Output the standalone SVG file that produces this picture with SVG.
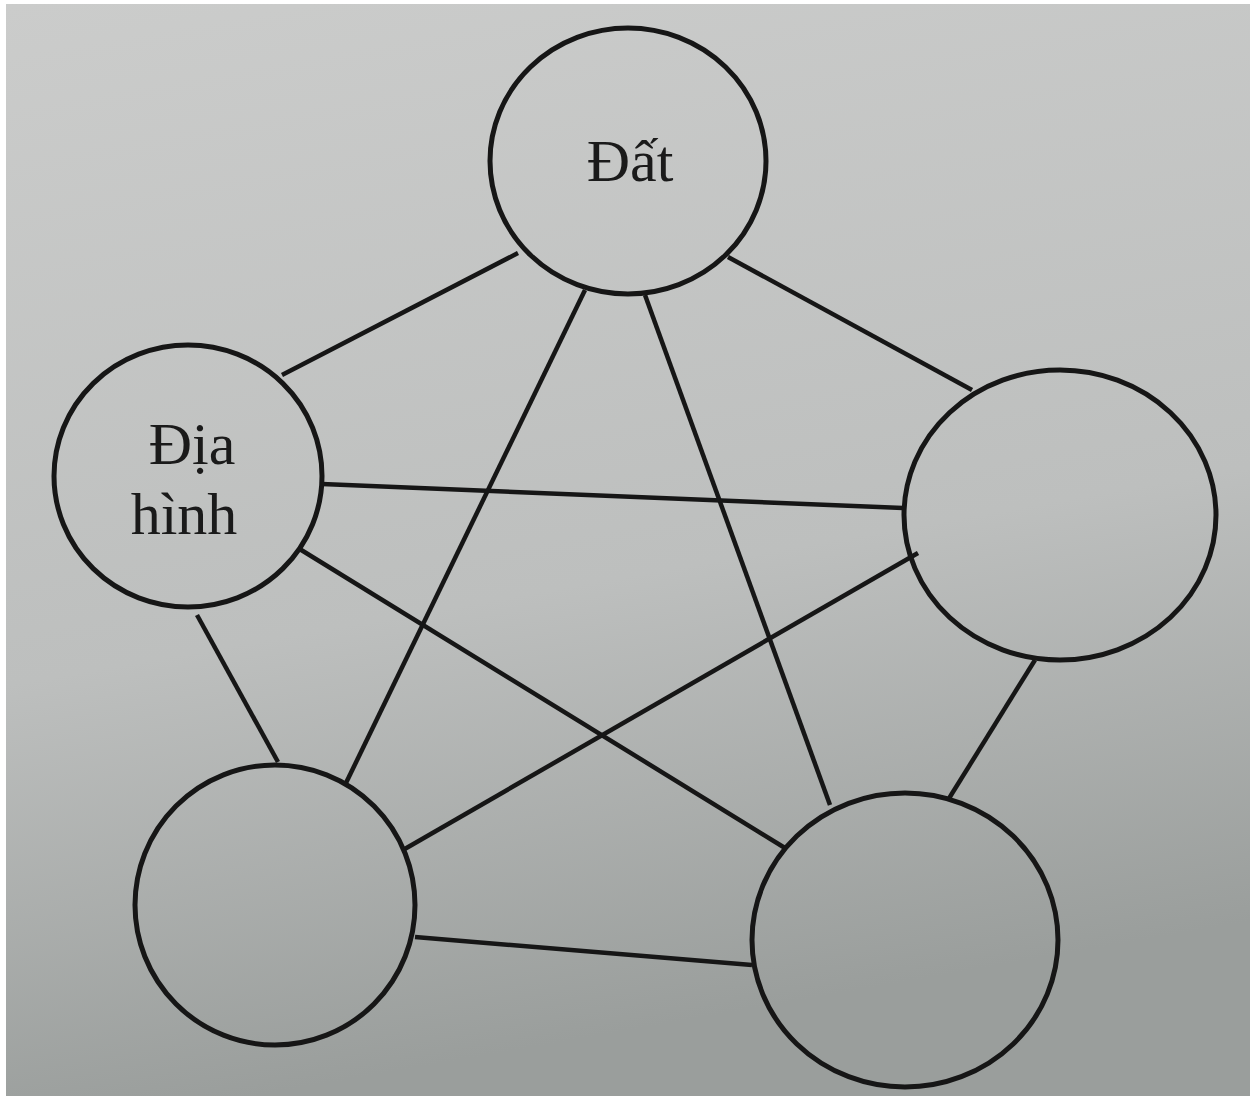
<svg xmlns="http://www.w3.org/2000/svg" width="1252" height="1102" viewBox="0 0 1252 1102">
<defs>
<linearGradient id="bg" x1="0" y1="0" x2="0.2" y2="1">
<stop offset="0" stop-color="#cbcccb"/>
<stop offset="0.6" stop-color="#bdbfbe"/>
<stop offset="1" stop-color="#9a9e9c"/>
</linearGradient>
<style>
.n{fill:none;stroke:#161616;stroke-width:5}
.e line{stroke:#161616;stroke-width:4.5}
.t{font-family:"Liberation Serif","DejaVu Serif",serif;font-size:60px;fill:#1a1a1a;text-anchor:middle}
</style>
</defs>
<rect x="0" y="0" width="1252" height="1102" fill="#ffffff"/>
<rect x="6" y="4" width="1244" height="1092" fill="url(#bg)"/>
<g class="e" id="connectors">
<line x1="518" y1="253" x2="282" y2="375"/>
<line x1="728" y1="257" x2="972" y2="390"/>
<line x1="585" y1="290" x2="345" y2="785"/>
<line x1="645" y1="295" x2="830" y2="805"/>
<line x1="322" y1="484" x2="903" y2="508"/>
<line x1="298" y1="548" x2="785" y2="848"/>
<line x1="197" y1="615" x2="278" y2="762"/>
<line x1="918" y1="553" x2="403" y2="850"/>
<line x1="1035" y1="660" x2="948" y2="800"/>
<line x1="415" y1="937" x2="752" y2="965"/>
</g>
<g id="dat"><ellipse class="n" cx="628" cy="161" rx="138" ry="133"/><text class="t" x="630" y="181">Đất</text></g>
<g id="diahinh"><ellipse class="n" cx="188" cy="476" rx="134" ry="131"/><text class="t" x="192" y="464">Địa</text><text class="t" x="184" y="534">hình</text></g>
<g id="right"><ellipse class="n" cx="1060" cy="515" rx="156" ry="145"/></g>
<g id="bottomleft"><ellipse class="n" cx="275" cy="905" rx="140" ry="140"/></g>
<g id="bottomright"><ellipse class="n" cx="905" cy="940" rx="153" ry="147"/></g>
</svg>
